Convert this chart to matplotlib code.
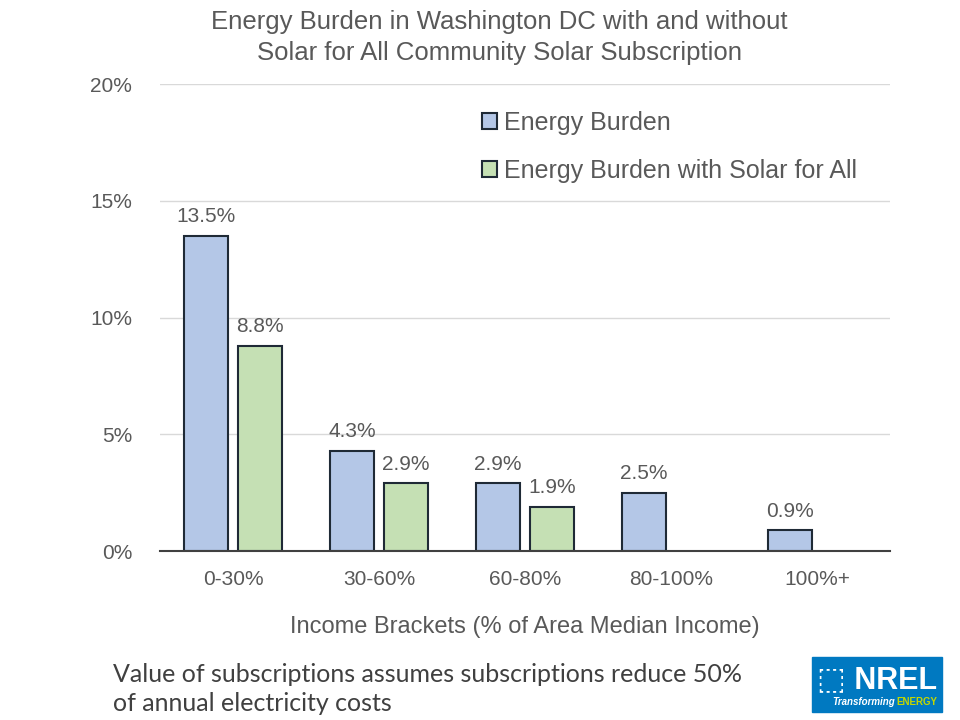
import numpy as np
import matplotlib
matplotlib.use('Agg')
import matplotlib.pyplot as plt
from matplotlib.patches import Rectangle

plt.rcParams['font.family'] = ['Liberation Sans', 'DejaVu Sans']

# data
brackets = ['0-30%', '30-60%', '60-80%', '80-100%', '100%+']
burden = [13.5, 4.3, 2.9, 2.5, 0.9]
burden_solar = [8.8, 2.9, 1.9, None, None]
y_ticks = [0, 5, 10, 15, 20]

blue = '#b4c7e7'
green = '#c5e0b4'
grey_txt = '#595959'

fig = plt.figure(figsize=(9.6, 7.2), dpi=100)
ax = fig.add_axes([0.1667, 0.2347, 0.7603, 0.6486])

x = np.arange(len(brackets))
w = 0.30
off = 0.185

ax.bar(x - off, burden, w, color=blue, edgecolor='#1f2a36', linewidth=1.5,
       label='Energy Burden', zorder=3)
xs = [xi + off for xi, v in zip(x, burden_solar) if v is not None]
vs = [v for v in burden_solar if v is not None]
ax.bar(xs, vs, w, color=green, edgecolor='#1f2a36', linewidth=1.5,
       label='Energy Burden with Solar for All', zorder=3)

for xi, v in zip(x, burden):
    ax.text(xi - off, v + 0.4, '%.1f%%' % v, ha='center', va='bottom',
            fontsize=15, color=grey_txt)
for xi, v in zip(xs, vs):
    ax.text(xi, v + 0.4, '%.1f%%' % v, ha='center', va='bottom',
            fontsize=15, color=grey_txt)

ax.set_xlim(-0.5, len(brackets) - 0.5)
ax.set_ylim(0, 20)
ax.set_yticks(y_ticks)
ax.set_yticklabels(['%d%%' % t for t in y_ticks])
ax.set_xticks(x)
ax.set_xticklabels(brackets)
ax.tick_params(axis='both', length=0, labelsize=15, colors=grey_txt)
ax.tick_params(axis='y', pad=20)
ax.tick_params(axis='x', pad=14)
ax.grid(axis='y', color='#d9d9d9', linewidth=1, zorder=0)
for s in ['top', 'right', 'left']:
    ax.spines[s].set_visible(False)
ax.spines['bottom'].set_color('#404040')
ax.spines['bottom'].set_linewidth(1.5)
ax.spines['bottom'].set_zorder(4)

ax.set_xlabel('Income Brackets (% of Area Median Income)', fontsize=17,
              color=grey_txt, labelpad=19)

leg = ax.legend(loc='upper left', bbox_to_anchor=(0.41, 0.99), frameon=False,
                fontsize=18, labelspacing=0.95, handlelength=0.6,
                handleheight=0.6, handletextpad=0.3, labelcolor=grey_txt)

fig.text(0.52, 0.948, 'Energy Burden in Washington DC with and without\n'
         'Solar for All Community Solar Subscription', ha='center',
         va='center', fontsize=18.5, color=grey_txt, linespacing=1.4)

fig.text(0.118, 0.043, 'Value of subscriptions assumes subscriptions reduce 50%\n'
         'of annual electricity costs', ha='left', va='center', fontsize=18,
         color='#404040', family=['Lato', 'DejaVu Sans'], linespacing=1.35)

# NREL badge
fig.patches.append(Rectangle((812 / 960, 1 - 712 / 720), 130 / 960, 55 / 720,
                             transform=fig.transFigure, color='#0079c1'))
fig.text(877 / 960, 1 - 680 / 720, '\u2b1a NREL', ha='center', va='center',
         fontsize=22, color='white', fontweight='bold',
         family=['Liberation Sans', 'DejaVu Sans'])
fig.text(895 / 960, 1 - 702 / 720, 'Transforming', ha='right', va='center',
         fontsize=7, color='white', style='italic', fontweight='bold')
fig.text(896 / 960, 1 - 702 / 720, 'ENERGY', ha='left', va='center',
         fontsize=7, color='#c4d600', fontweight='bold')

fig.savefig('out.png', dpi=100)
